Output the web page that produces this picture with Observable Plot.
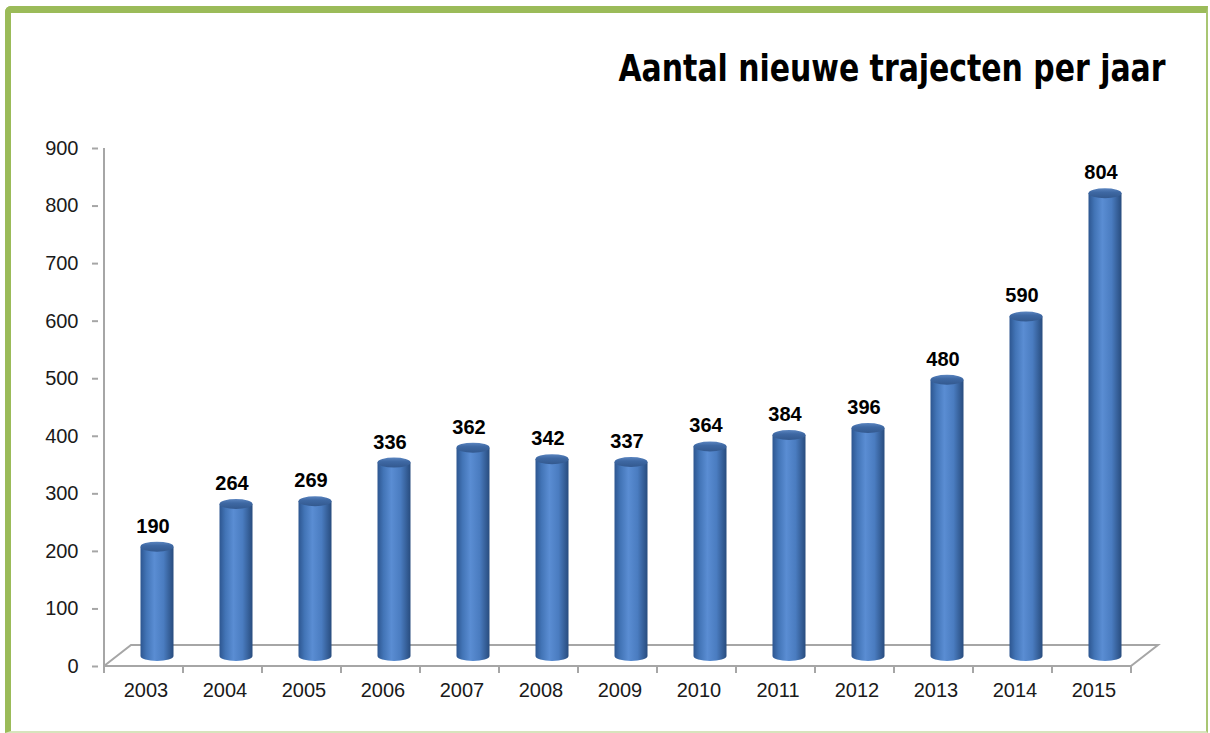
<!DOCTYPE html>
<html>
<head>
<meta charset="utf-8">
<script src="https://cdn.jsdelivr.net/npm/d3@7"></script>
<script src="https://cdn.jsdelivr.net/npm/@observablehq/plot@0.6"></script>
<style>
  html, body { margin: 0; padding: 0; background: #fff; }
  #wrap { position: relative; width: 1210px; height: 733px; overflow: hidden; background: #fff; }
  #frame { position: absolute; left: 5px; top: 6px; width: 1195px; height: 718px;
    border-top: 7px solid #9bbb59; border-left: 6px solid #9bbb59;
    border-right: 2px solid #a9c673; border-bottom: 2px solid #d7e4bd;
    border-top-left-radius: 6px; }
  #title { position: absolute; right: 45px; top: 46px; white-space: nowrap;
    font-family: "Liberation Sans Narrow", "DejaVu Sans Condensed", "Open Sans", sans-serif;
    font-weight: bold; font-size: 38px; color: #000; transform-origin: right center; }
  #chart { position: absolute; left: 0; top: 0; }
</style>
</head>
<body>
<div id="wrap">
  <div id="frame"></div>
  <div id="chart"></div>
  <div id="title"></div>
</div>
<script>
const years = ["2003","2004","2005","2006","2007","2008","2009","2010","2011","2012","2013","2014","2015"];
const values = [190, 264, 269, 336, 362, 342, 337, 364, 384, 396, 480, 590, 804];
const yTicks = [0, 100, 200, 300, 400, 500, 600, 700, 800, 900];
const titleText = "Aantal nieuwe trajecten per jaar";

const data = years.map((year, i) => ({year, value: values[i]}));

// 3D geometry (pixels)
const DEPTH_X = 27, DEPTH_Y = -21;   // floor depth
const MID_X = 13.5, MID_Y = -10;     // cylinders sit at mid depth
const R = 16.5, RY = 5;

function floorAndAxes(index, scales) {
  const g = d3.create("svg:g");
  const x0 = scales.x(years[0]);
  const bw = scales.x(years[1]) - scales.x(years[0]);
  const x1 = scales.x(years[years.length - 1]) + bw;
  const y0 = scales.y(0);
  const yTop = scales.y(yTicks[yTicks.length - 1]);
  const stroke = "#a6a6a6";
  // floor back edge and sides
  g.append("path")
    .attr("d", `M${x0},${y0}L${x0 + DEPTH_X},${y0 + DEPTH_Y}L${x1 + DEPTH_X},${y0 + DEPTH_Y}L${x1},${y0}`)
    .attr("fill", "none").attr("stroke", stroke).attr("stroke-width", 2);
  // y axis line
  g.append("line").attr("x1", x0).attr("x2", x0).attr("y1", yTop).attr("y2", y0)
    .attr("stroke", stroke).attr("stroke-width", 2);
  return g.node();
}

function frontEdge(index, scales) {
  const g = d3.create("svg:g");
  const x0 = scales.x(years[0]);
  const bw = scales.x(years[1]) - scales.x(years[0]);
  const x1 = scales.x(years[years.length - 1]) + bw;
  const y0 = scales.y(0);
  const stroke = "#a6a6a6";
  g.append("line").attr("x1", x0).attr("x2", x1).attr("y1", y0).attr("y2", y0)
    .attr("stroke", stroke).attr("stroke-width", 2);
  for (let i = 0; i <= years.length; i++) {
    const x = x0 + i * bw;
    g.append("line").attr("x1", x).attr("x2", x).attr("y1", y0).attr("y2", y0 + 7)
      .attr("stroke", stroke).attr("stroke-width", 2);
  }
  return g.node();
}

function cylinders(index, scales) {
  const g = d3.create("svg:g");
  const defs = g.append("defs");
  const body = defs.append("linearGradient").attr("id", "cylBody")
    .attr("x1", "0").attr("x2", "1").attr("y1", "0").attr("y2", "0");
  [["0%", "#2d5690"], ["18%", "#4274b6"], ["42%", "#5a8dd3"], ["70%", "#4a7cc0"], ["100%", "#284c7e"]]
    .forEach(([o, c]) => body.append("stop").attr("offset", o).attr("stop-color", c));
  const top = defs.append("linearGradient").attr("id", "cylTop")
    .attr("x1", "0").attr("x2", "0").attr("y1", "0").attr("y2", "1");
  [["0%", "#5b85c0"], ["40%", "#3e68a3"], ["100%", "#33598f"]]
    .forEach(([o, c]) => top.append("stop").attr("offset", o).attr("stop-color", c));
  const bw = scales.x(years[1]) - scales.x(years[0]);
  data.forEach(d => {
    const cx = scales.x(d.year) + bw / 2 + MID_X;
    const yT = scales.y(d.value) + MID_Y;
    const yB = scales.y(0) + MID_Y;
    g.append("path")
      .attr("d", `M${cx - R},${yT}L${cx - R},${yB}A${R},${RY} 0 0 0 ${cx + R},${yB}L${cx + R},${yT}Z`)
      .attr("fill", "url(#cylBody)");
    g.append("ellipse").attr("cx", cx).attr("cy", yT).attr("rx", R).attr("ry", RY)
      .attr("fill", "url(#cylTop)");
  });
  return g.node();
}

const plot = Plot.plot({
  width: 1210,
  height: 733,
  marginLeft: 98,
  marginRight: 73,
  marginTop: 148,
  marginBottom: 67,
  style: {background: "transparent", color: "#1a1a1a", fontFamily: "'Liberation Sans', Arial, sans-serif"},
  x: {type: "band", domain: years, padding: 0, align: 0.5},
  y: {domain: [0, 900]},
  marks: [
    floorAndAxes,
    Plot.axisY({ticks: yTicks, tickSize: 6, tickPadding: 14, fontSize: 20, stroke: "#a6a6a6", strokeWidth: 2, label: null}),
    Plot.axisX({tickSize: 0, tickPadding: 16, fontSize: 20, dx: 2, label: null}),
    frontEdge,
    cylinders,
    Plot.text(data, {x: "year", y: "value", text: d => String(d.value), dy: -31, dx: 9,
      fontSize: 20, fontWeight: "bold", fill: "#000"})
  ]
});
document.getElementById("chart").appendChild(plot);

const t = document.getElementById("title");
t.textContent = titleText;
const w = t.getBoundingClientRect().width;
t.style.transform = `scaleX(${547 / w})`;
</script>
</body>
</html>
